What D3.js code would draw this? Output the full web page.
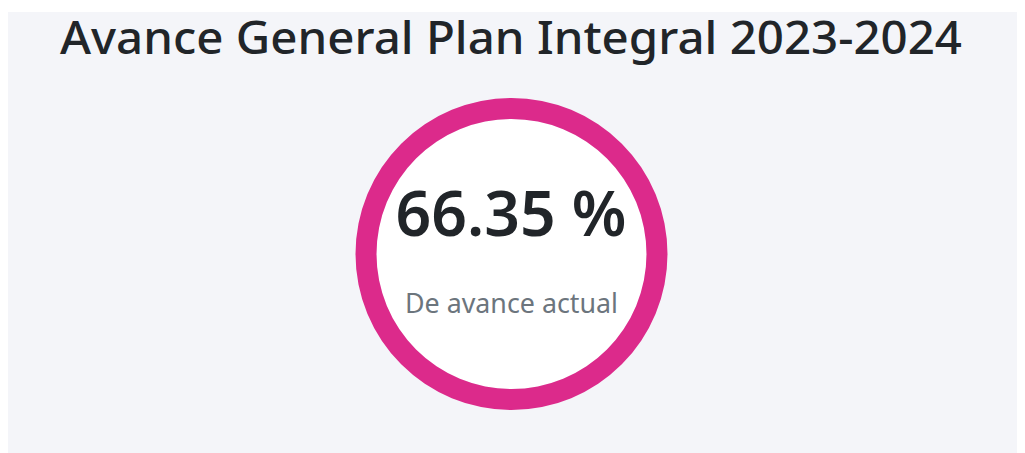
<!DOCTYPE html>
<html lang="es">
<head>
  <meta charset="UTF-8">
  <title>Avance General Plan Integral</title>
  <style>
    body, html {
        margin: 0;
        padding: 0;
        background-color: #FFF;
        font-family: "Noto Sans", "Open Sans", sans-serif;
    }
    #chart {
        display: block;
    }
  </style>
</head>
<body>

<svg id="chart" width="1025" height="453"></svg>

<script src="https://d3js.org/d3.v7.min.js"></script>
<script>
/* global d3 */
var title = "Avance General Plan Integral 2023-2024";
var avance = [66.35];
var etiquetas = ["De avance actual"];

var svg = d3.select("#chart"),
  width = +svg.attr("width"),
  height = +svg.attr("height"),
  cx = 511.5,
  cy = 254,
  rOuter = 156,
  ringWidth = 21;

// panel de fondo
svg.append("rect")
  .attr("x", 8)
  .attr("y", 12)
  .attr("width", width - 16)
  .attr("height", height - 12)
  .attr("fill", "#F4F5F9");

// scale font so the text spans the target width
function fitText(sel, targetWidth) {
  var size = parseFloat(sel.attr("font-size"));
  var w = sel.node().getComputedTextLength();
  sel.attr("font-size", size * targetWidth / w);
}

svg.append("text")
  .attr("x", 511)
  .attr("y", 54)
  .attr("text-anchor", "middle")
  .attr("font-size", 46)
  .attr("font-weight", 500)
  .attr("fill", "#212529")
  .attr("textLength", 902)
  .attr("lengthAdjust", "spacingAndGlyphs")
  .text(title);

var g = svg.append("g")
  .attr("transform", "translate(" + cx + "," + cy + ")");

g.append("circle")
  .attr("r", rOuter - ringWidth)
  .attr("fill", "#FFF");

var arc = d3.arc()
  .innerRadius(rOuter - ringWidth)
  .outerRadius(rOuter)
  .startAngle(0)
  .endAngle(2 * Math.PI);

g.append("path")
  .attr("d", arc())
  .attr("fill", "#DC2A8B");

var v = g.selectAll(".valor")
  .data(avance)
  .enter().append("text")
  .attr("class", "valor")
  .attr("x", -0.5)
  .attr("y", 236 - cy)
  .attr("text-anchor", "middle")
  .attr("font-size", 70)
  .attr("font-weight", 600)
  .attr("fill", "#212529")
  .text(function (d) { return d3.format(".2f")(d) + " %"; });
fitText(v, 231);

g.selectAll(".etiqueta")
  .data(etiquetas)
  .enter().append("text")
  .attr("class", "etiqueta")
  .attr("x", 0)
  .attr("y", 313 - cy)
  .attr("text-anchor", "middle")
  .attr("font-size", 26.5)
  .attr("fill", "#6C757D")
  .attr("textLength", 213)
  .attr("lengthAdjust", "spacingAndGlyphs")
  .text(function (d) { return d; });
</script>

</body>
</html>
